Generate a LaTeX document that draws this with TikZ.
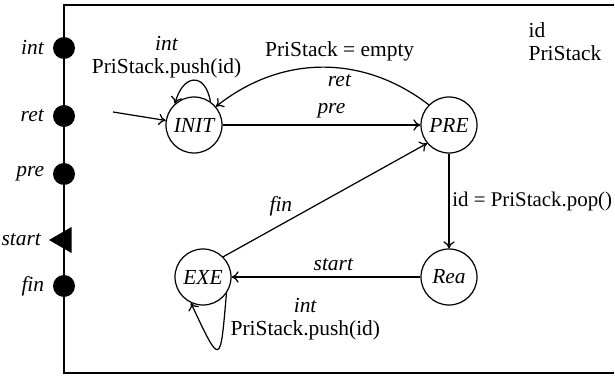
\documentclass[tikz,border=0pt]{standalone}
\usepackage{fontspec}
\setmainfont{Liberation Serif}
\usetikzlibrary{shapes.geometric,arrows.meta}

\newcommand{\labelsize}{\fontsize{12.2}{13}\selectfont}

\tikzset{
    state/.style={circle, draw, line width=0.7pt, minimum size=1.12cm, inner sep=0pt, font=\labelsize\itshape},
    port/.style={circle, fill, minimum size=0.44cm, inner sep=0pt},
    inport/.style={regular polygon, regular polygon sides=3, shape border rotate=90, fill, minimum size=0.60cm, inner sep=0pt},
    trans/.style={line width=0.7pt, -{To[length=4pt,width=6.5pt]}}
}

\begin{document}
\begin{tikzpicture}[font=\labelsize, line width=0.7pt]
            \useasboundingbox (0.00, 0.00) rectangle (12.30, 7.50);
            % component frame
            \draw (12.28, 7.40) -- (1.28, 7.40) -- (1.28, 0.04) -- (12.28, 0.04);
            % ports
            \node[port,   label={[label distance=1pt]left:\textit{int}}]   (pint)   at (1.28, 6.54) {};
            \node[port,   label={[label distance=1pt]left:\textit{ret}}]   (pret)   at (1.28, 5.18) {};
            \node[port,   label={[label distance=1pt]left:\textit{pre}}]   (ppre)   at (1.28, 4.02) {};
            \node[inport, label={left:\textit{start}}]                     (pstart) at (1.28, 2.70) {};
            \node[port,   label={[label distance=1pt]left:\textit{fin}}]   (pfin)   at (1.28, 1.78) {};
            % variables
            \node[anchor=north west, align=left, inner sep=0pt]            (vars)   at (10.56, 7.05) {id\\PriStack};
            % states
            \node[state] (INIT) at (3.88, 5.00) {INIT};
            \node[state] (PRE)  at (8.98, 5.00) {PRE};
            \node[state] (Rea)  at (8.98, 1.96) {Rea};
            \node[state] (EXE)  at (4.06, 1.96) {EXE};
            \coordinate  (entry) at (2.26, 5.26);
            % transitions
            \draw[trans] (entry) -- (INIT);
            \draw[trans] (INIT.55) to[out=100, in=75, looseness=2.2]
                node[above, inner sep=1pt, xshift=-0.54cm, align=center] {\textit{int}\\PriStack.push(id)} (INIT.132);
            \draw[trans] (INIT) -- node[pos=0.55, above] {\textit{pre}} (PRE);
            \draw[trans] (PRE.135) to[bend right=38]
                node[pos=0.42, above] {PriStack = empty}
                node[pos=0.42, below] {\textit{ret}} (INIT.40);
            \draw[trans] (PRE) -- node[right, inner sep=1.5pt, font=\fontsize{11.9}{13}\selectfont] {id = PriStack.pop()} (Rea);
            \draw[trans] (Rea) -- node[pos=0.46, above] {\textit{start}} (EXE);
            \draw[trans] (EXE.45) -- node[pos=0.3, above, xshift=-2pt] {\textit{fin}} (PRE.220);
            \draw[trans] (EXE.-35) to[out=-95, in=-65, looseness=5]
                node[pos=0.14, right, align=center] {\textit{int}\\PriStack.push(id)} (EXE.-115);
\end{tikzpicture}
\end{document}
